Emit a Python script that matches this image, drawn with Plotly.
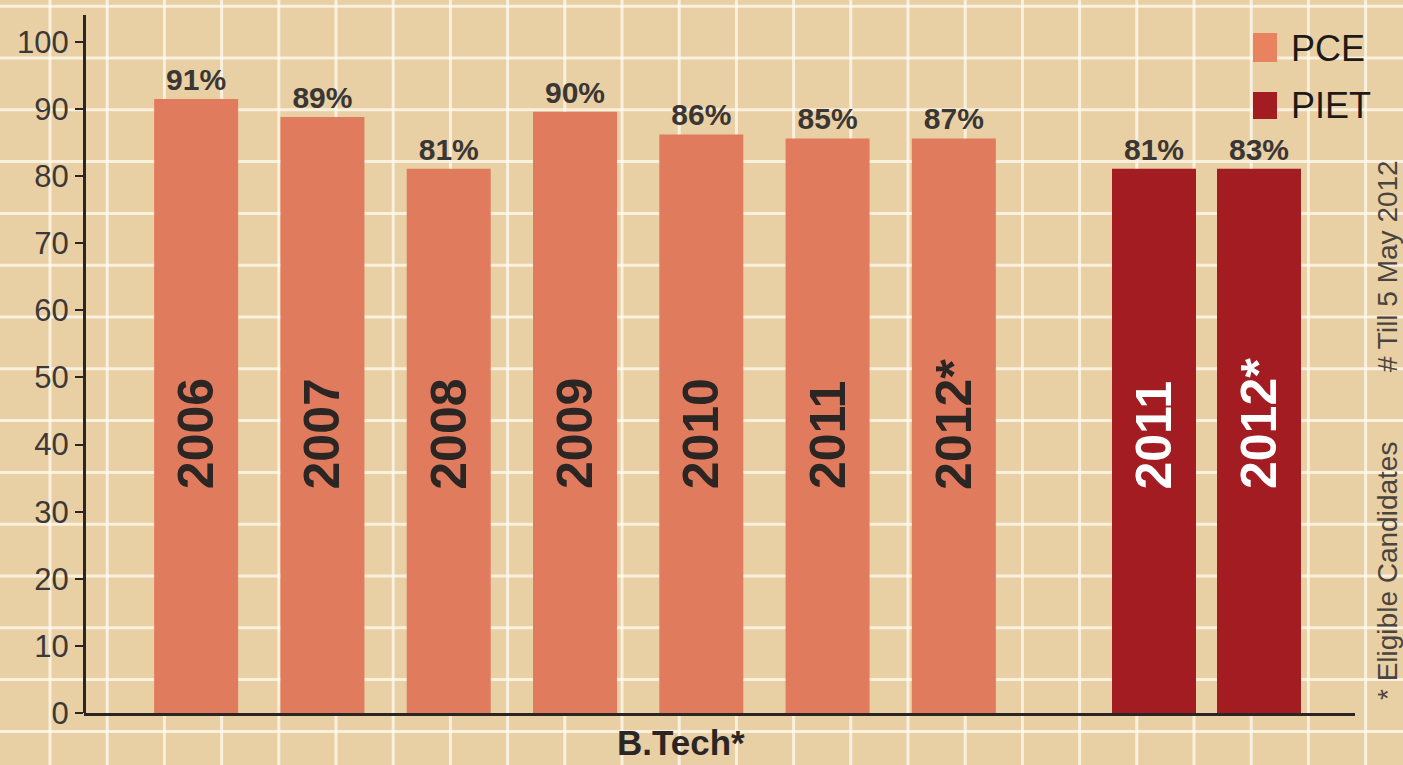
import plotly.graph_objects as go

# ---------------- data ----------------
pce_years = ["2006", "2007", "2008", "2009", "2010", "2011", "2012*"]
pce_values = [91.5, 88.8, 81.1, 89.6, 86.2, 85.6, 85.6]
pce_labels = ["91%", "89%", "81%", "90%", "86%", "85%", "87%"]

piet_years = ["2011", "2012*"]
piet_values = [81.1, 81.1]
piet_labels = ["81%", "83%"]

y_ticks = [0, 10, 20, 30, 40, 50, 60, 70, 80, 90, 100]

# ---------------- style ----------------
W, H = 1403, 765
ML, MR, MT, MB = 84, 48, 15, 52
PW, PH = W - ML - MR, H - MT - MB
BG = "#E9CFA4"
PCE_COLOR = "#E07B5D"
PIET_COLOR = "#A21C21"
DARK = "#2B2624"
FONT = "Liberation Sans, Arial, sans-serif"


def px_x(px):
    return (px - ML) / PW


def px_y(py):
    return (H - MB - py) / PH


fig = go.Figure()

fig.add_trace(go.Bar(
    x=pce_years, y=pce_values, name="PCE", xaxis="x", yaxis="y",
    marker=dict(color=PCE_COLOR, line=dict(width=0)), width=0.665,
    text=pce_labels, textposition="outside", constraintext="none",
    textfont=dict(family=FONT, size=30, color="#3A3634", weight="bold"),
    cliponaxis=False, showlegend=False,
))
fig.add_trace(go.Bar(
    x=piet_years, y=piet_values, name="PIET", xaxis="x2", yaxis="y",
    marker=dict(color=PIET_COLOR, line=dict(width=0)), width=0.8,
    text=piet_labels, textposition="outside", constraintext="none",
    textfont=dict(family=FONT, size=30, color="#3A3634", weight="bold"),
    cliponaxis=False, showlegend=False,
))
# baseline axis spanning full plot width
fig.add_trace(go.Scatter(x=[0, 1], y=[0, 0], xaxis="x3", yaxis="y", mode="lines",
                         line=dict(width=0, color="rgba(0,0,0,0)"), showlegend=False,
                         hoverinfo="skip"))

shapes = []
# background tartan grid (decoration)
k = 0
while True:
    py = 6.2 + 51.8 * k
    if py > H:
        break
    shapes.append(dict(type="line", xref="paper", yref="paper",
                       x0=px_x(0), x1=px_x(W), y0=px_y(py), y1=px_y(py),
                       line=dict(color="rgba(255,251,242,0.75)", width=3), layer="below"))
    k += 1
k = 0
while True:
    px = 50 + 57.2 * k
    if px > W:
        break
    shapes.append(dict(type="line", xref="paper", yref="paper",
                       x0=px_x(px), x1=px_x(px), y0=px_y(0), y1=px_y(H),
                       line=dict(color="rgba(255,251,242,0.75)", width=3), layer="below"))
    k += 1

# legend squares
shapes.append(dict(type="rect", xref="paper", yref="paper",
                   x0=px_x(1253), x1=px_x(1277), y0=px_y(62), y1=px_y(33),
                   fillcolor="#E8825F", line=dict(width=0)))
shapes.append(dict(type="rect", xref="paper", yref="paper",
                   x0=px_x(1253), x1=px_x(1277), y0=px_y(119), y1=px_y(92),
                   fillcolor=PIET_COLOR, line=dict(width=0)))

annotations = []
for i, yr in enumerate(pce_years):
    annotations.append(dict(x=i, y=33, xref="x", yref="y", text=yr, showarrow=False,
                            textangle=-90, xanchor="center", yanchor="bottom",
                            font=dict(family=FONT, size=50, color=DARK, weight="bold")))
for i, yr in enumerate(piet_years):
    annotations.append(dict(x=i, y=33, xref="x2", yref="y", text=yr, showarrow=False,
                            textangle=-90, xanchor="center", yanchor="bottom",
                            font=dict(family=FONT, size=50, color="white", weight="bold")))

annotations.append(dict(x=px_x(1289), y=px_y(48), xref="paper", yref="paper", text="PCE",
                        showarrow=False, xanchor="left", yanchor="middle",
                        font=dict(family=FONT, size=36, color="#1E1A18")))
annotations.append(dict(x=px_x(1289), y=px_y(106), xref="paper", yref="paper", text="PIET",
                        showarrow=False, xanchor="left", yanchor="middle",
                        font=dict(family=FONT, size=36, color="#1E1A18")))
annotations.append(dict(x=px_x(681), y=px_y(742), xref="paper", yref="paper", text="B.Tech*",
                        showarrow=False, xanchor="center", yanchor="middle",
                        font=dict(family=FONT, size=35, color=DARK, weight="bold")))
annotations.append(dict(x=px_x(1387), y=px_y(702), xref="paper", yref="paper",
                        text="* Eligible Candidates", showarrow=False, textangle=-90,
                        xanchor="center", yanchor="bottom",
                        font=dict(family=FONT, size=28, color="#4A4440")))
annotations.append(dict(x=px_x(1387), y=px_y(158), xref="paper", yref="paper",
                        text="# Till 5 May 2012", showarrow=False, textangle=-90,
                        xanchor="center", yanchor="top",
                        font=dict(family=FONT, size=28, color="#4A4440")))

fig.update_layout(
    width=W, height=H,
    margin=dict(l=ML, r=MR, t=MT, b=MB, pad=0),
    paper_bgcolor=BG, plot_bgcolor="rgba(0,0,0,0)",
    showlegend=False,
    shapes=shapes, annotations=annotations,
    xaxis=dict(domain=[px_x(133), px_x(1017)], anchor="y", type="category",
               range=[-0.5, len(pce_years) - 0.5], showline=False, showgrid=False,
               showticklabels=False, ticks="", zeroline=False, fixedrange=True),
    xaxis2=dict(domain=[px_x(1101.5), px_x(1311.5)], anchor="y", type="category",
                range=[-0.5, len(piet_years) - 0.5], showline=False, showgrid=False,
                showticklabels=False, ticks="", zeroline=False, fixedrange=True),
    xaxis3=dict(domain=[0, 1], anchor="y", range=[0, 1], showline=True, linewidth=3,
                linecolor=DARK, showgrid=False, showticklabels=False, ticks="",
                zeroline=False, fixedrange=True),
    yaxis=dict(domain=[0, 1], anchor="free", position=0, range=[0, 104],
               tickvals=y_ticks, ticktext=[str(v) for v in y_ticks],
               showline=True, linewidth=3, linecolor=DARK,
               ticks="outside", ticklen=8, tickwidth=2, tickcolor=DARK,
               tickfont=dict(family=FONT, size=31, color="#3C3836"),
               showgrid=False, zeroline=False, fixedrange=True),
)

fig.write_html("out.html", config={"displayModeBar": False},
               post_script="document.body.style.margin='0';document.body.style.overflow='hidden';")
